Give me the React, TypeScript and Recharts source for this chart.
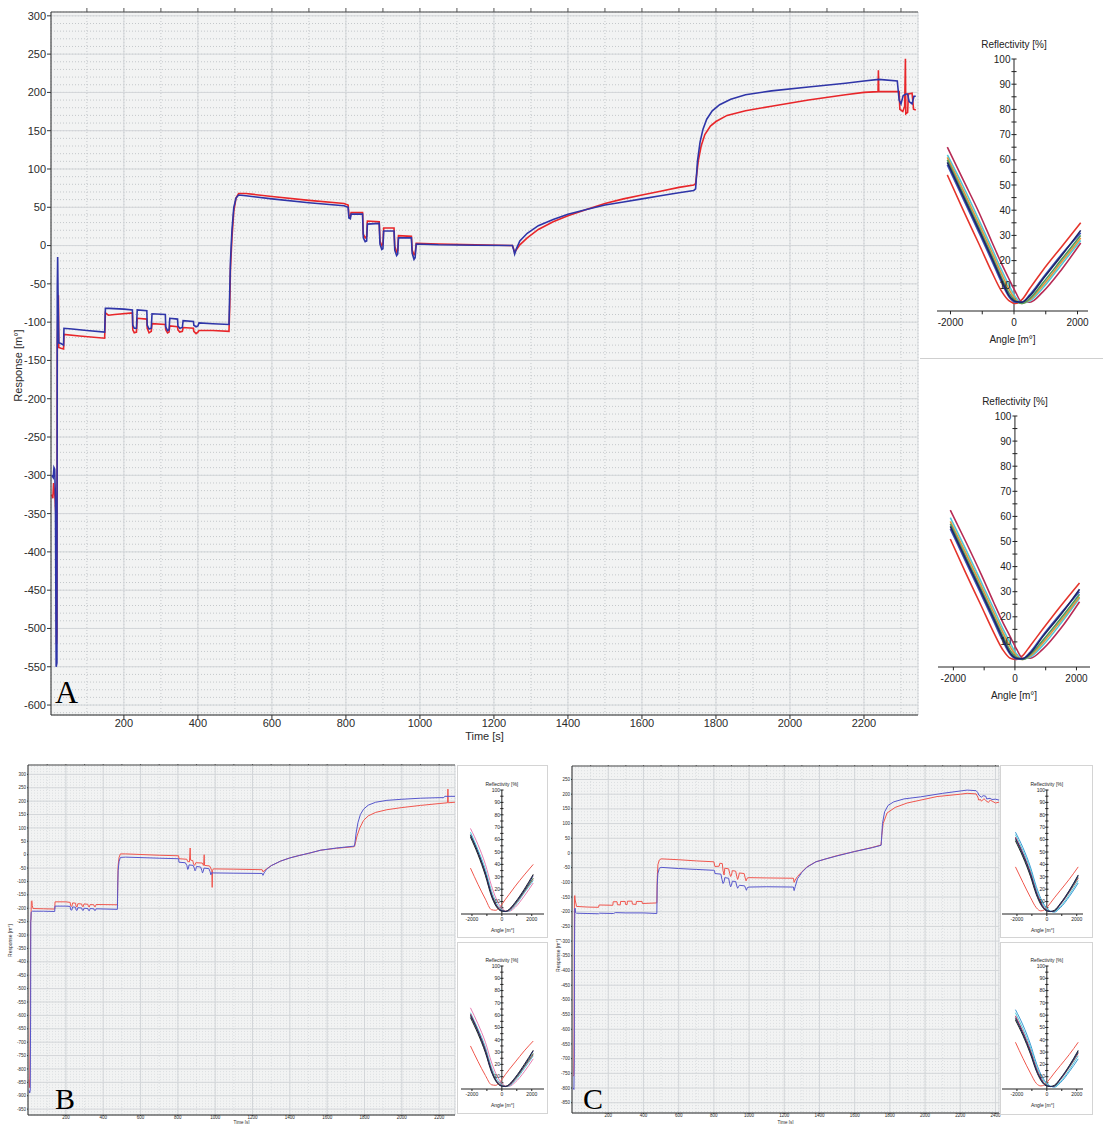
import React from 'react';
import { LineChart, Line, XAxis, YAxis, CartesianGrid, ReferenceLine, ReferenceDot } from 'recharts';

const FONT = '"Liberation Sans", Arial, sans-serif';
type Pt = [number, number];

// ---- panel A sensorgram (time [s], response [m°])
const aRed: Pt[] = [
  [5, -325], [8, -330], [10, -310], [12, -320], [14, -330], [16, -350], [18, -520], [19, -505], [20, -130], [22, -70], [23, -65],
  [24, -133], [30, -134], [37, -135], [38, -116], [80, -118], [148, -121], [150, -88], [158, -91], [175, -90], [223, -88],
  [224, -110], [228, -114], [234, -113], [236, -95], [262, -96], [263, -108], [268, -114], [274, -112], [276, -102], [312, -103],
  [313, -110], [318, -114], [322, -113], [324, -105], [345, -106], [346, -110], [351, -113], [358, -112], [360, -107], [388, -108],
  [389, -112], [395, -115], [400, -113], [403, -111], [440, -111], [484, -112], [486, -80], [488, -30], [492, 10], [497, 45],
  [503, 62], [510, 68], [530, 68], [600, 64], [700, 59], [795, 55], [800, 54], [806, 53], [808, 40], [812, 38], [814, 43],
  [845, 43], [847, 15], [852, 10], [856, 12], [858, 32], [890, 31], [892, 6], [897, 0], [900, 2], [902, 23], [930, 23],
  [932, -1], [937, -8], [940, -6], [942, 13], [977, 12], [979, -6], [984, -12], [987, -10], [990, 3], [1050, 2], [1150, 1],
  [1250, 0], [1253, -4], [1256, -9], [1260, -6], [1270, 1], [1290, 10], [1320, 21], [1360, 31], [1400, 39], [1450, 47],
  [1500, 55], [1550, 61], [1600, 66], [1650, 71], [1700, 76], [1740, 79], [1745, 81], [1752, 110], [1760, 130], [1770, 145],
  [1785, 156], [1800, 162], [1830, 170], [1880, 176], [1950, 182], [2050, 190], [2150, 197], [2200, 200], [2238, 201],
  [2239, 229], [2240, 201], [2295, 201], [2297, 178], [2305, 175], [2310, 182], [2312, 244], [2313, 172], [2318, 174],
  [2320, 198], [2330, 199], [2334, 178], [2340, 177],
];
const aBlue: Pt[] = [
  [5, -300], [9, -303], [11, -290], [13, -292], [15, -330], [17, -550], [19, -545], [20, -55], [21, -15], [22, -60], [24, -127],
  [30, -128], [37, -130], [38, -108], [60, -109], [100, -111], [148, -113], [150, -82], [160, -82], [200, -83], [223, -84],
  [224, -104], [228, -108], [234, -108], [236, -84], [262, -85], [263, -104], [268, -109], [274, -108], [276, -89], [312, -90],
  [313, -106], [318, -111], [322, -110], [324, -95], [345, -96], [346, -105], [351, -108], [358, -107], [360, -98], [388, -99],
  [389, -104], [395, -106], [400, -105], [403, -101], [440, -102], [484, -103], [486, -60], [488, -20], [492, 20], [497, 50],
  [503, 62], [510, 66], [530, 65], [600, 61], [700, 56], [795, 52], [800, 51], [806, 50], [808, 36], [812, 35], [814, 41],
  [845, 41], [847, 10], [852, 5], [856, 6], [858, 28], [890, 29], [892, 2], [897, -5], [900, -4], [902, 19], [930, 19],
  [932, -6], [937, -13], [940, -11], [942, 10], [977, 10], [979, -10], [984, -18], [987, -16], [990, 2], [1050, 1],
  [1150, 0.5], [1250, 0], [1253, -5], [1256, -11], [1260, -5], [1270, 6], [1290, 16], [1320, 26], [1360, 34], [1400, 41],
  [1450, 47], [1500, 53], [1550, 57], [1600, 61], [1650, 65], [1700, 69], [1740, 72], [1745, 74], [1750, 110], [1757, 135],
  [1765, 152], [1775, 165], [1790, 176], [1810, 184], [1840, 191], [1880, 197], [1950, 202], [2050, 207], [2150, 212],
  [2200, 215], [2240, 217], [2290, 215], [2295, 190], [2300, 185], [2306, 196], [2314, 198], [2318, 198], [2322, 188],
  [2330, 185], [2335, 195], [2340, 195],
];

// ---- panel B sensorgram
const bRed: Pt[] = [
  [3, -840], [6, -870], [9, -640], [11, -250], [13, -240], [15, -175], [18, -172], [20, -190], [24, -201], [80, -202],
  [140, -203], [142, -176], [200, -176], [223, -178], [225, -190], [232, -193], [236, -180], [252, -181], [254, -192],
  [260, -195], [264, -183], [285, -184], [287, -192], [293, -194], [297, -184], [318, -185], [320, -193], [326, -195],
  [330, -186], [350, -187], [352, -193], [358, -194], [362, -186], [476, -187], [478, -100], [480, -40], [485, -10], [492, 3],
  [520, 3], [700, -2], [804, -4], [806, -15], [848, -17], [852, -25], [862, -27], [866, 25], [868, -20], [880, -22],
  [884, -35], [890, -40], [896, -30], [930, -31], [938, -40], [941, 0], [943, -40], [970, -42], [976, -50], [982, -60],
  [984, -122], [986, -58], [990, -53], [1100, -54], [1252, -56], [1256, -64], [1262, -60], [1275, -53], [1300, -41],
  [1350, -24], [1400, -12], [1450, -3], [1500, 5], [1566, 17], [1650, 24], [1745, 30], [1748, 34], [1760, 70], [1775, 100],
  [1795, 128], [1820, 145], [1860, 158], [1920, 168], [2000, 176], [2100, 184], [2200, 191], [2245, 194], [2247, 245],
  [2249, 194], [2285, 196],
];
const bBlue: Pt[] = [
  [3, -880], [6, -890], [9, -880], [11, -600], [12, -250], [14, -215], [20, -211], [80, -211], [140, -212], [142, -192],
  [200, -192], [223, -193], [225, -205], [232, -207], [236, -195], [252, -196], [254, -206], [260, -208], [264, -198],
  [285, -199], [287, -206], [293, -208], [297, -200], [318, -201], [320, -207], [326, -209], [330, -201], [350, -202],
  [352, -207], [358, -208], [362, -202], [476, -204], [478, -120], [480, -60], [485, -25], [492, -10], [520, -9], [700, -13],
  [804, -15], [806, -28], [840, -30], [848, -40], [853, -55], [857, -50], [860, -38], [882, -40], [888, -50], [892, -60],
  [896, -55], [900, -44], [922, -46], [928, -58], [932, -68], [936, -62], [940, -50], [966, -52], [972, -62], [977, -75],
  [982, -66], [986, -68], [1100, -69], [1252, -70], [1256, -77], [1262, -68], [1275, -55], [1300, -41], [1350, -24],
  [1400, -12], [1450, -3], [1500, 5], [1566, 17], [1650, 25], [1745, 32], [1748, 40], [1755, 80], [1765, 120], [1778, 150],
  [1795, 170], [1820, 185], [1860, 196], [1920, 203], [2000, 207], [2100, 211], [2200, 213], [2225, 213], [2230, 218],
  [2285, 218],
];

// ---- panel C sensorgram
const cRed: Pt[] = [
  [1, -760], [4, -755], [6, -600], [8, -150], [10, -145], [12, -160], [20, -182], [80, -184], [145, -185], [148, -177],
  [226, -178], [228, -166], [250, -166], [252, -176], [268, -177], [270, -165], [296, -165], [298, -175], [307, -176],
  [309, -164], [335, -164], [337, -174], [358, -175], [360, -165], [392, -165], [394, -172], [476, -170], [478, -90],
  [482, -40], [490, -24], [500, -20], [600, -23], [700, -27], [800, -30], [806, -46], [830, -45], [834, -35], [848, -36],
  [852, -60], [858, -75], [862, -52], [884, -54], [890, -70], [895, -80], [900, -76], [905, -60], [924, -62], [930, -80],
  [935, -90], [940, -82], [945, -68], [972, -70], [978, -85], [983, -95], [990, -85], [1000, -84], [1100, -85], [1252, -86],
  [1256, -100], [1262, -92], [1275, -80], [1300, -64], [1330, -47], [1380, -30], [1443, -19], [1500, -9], [1600, 5],
  [1700, 19], [1750, 27], [1754, 60], [1762, 100], [1784, 136], [1830, 155], [1898, 170], [2068, 192], [2200, 200],
  [2239, 203], [2290, 201], [2300, 190], [2305, 180], [2315, 182], [2320, 176], [2335, 185], [2345, 178], [2360, 172],
  [2370, 180], [2385, 175], [2400, 170], [2420, 173],
];
const cBlue: Pt[] = [
  [2, -800], [5, -805], [7, -700], [8, -350], [10, -190], [12, -188], [14, -203], [20, -205], [80, -206], [145, -207],
  [150, -205], [230, -206], [240, -203], [300, -204], [400, -204], [476, -206], [478, -110], [482, -70], [490, -52],
  [500, -49], [600, -53], [700, -56], [800, -59], [804, -60], [806, -70], [840, -72], [846, -90], [852, -104], [858, -98],
  [862, -84], [884, -86], [890, -105], [895, -115], [900, -110], [905, -96], [924, -97], [930, -112], [935, -120],
  [940, -115], [945, -110], [975, -112], [980, -120], [985, -127], [990, -118], [1000, -116], [1100, -115], [1252, -116],
  [1256, -128], [1262, -115], [1275, -88], [1300, -66], [1330, -48], [1380, -30], [1443, -19], [1500, -10], [1600, 5],
  [1700, 18], [1750, 26], [1752, 40], [1758, 100], [1770, 140], [1790, 162], [1822, 174], [1880, 184], [1974, 191],
  [2100, 203], [2239, 214], [2290, 212], [2300, 205], [2305, 197], [2320, 190], [2330, 195], [2345, 193], [2350, 184],
  [2370, 186], [2380, 182], [2400, 183], [2420, 180],
];

// ---- tick labels
const aTimeTicks = [200, 400, 600, 800, 1000, 1200, 1400, 1600, 1800, 2000, 2200];
const aRespTicks = [-600, -550, -500, -450, -400, -350, -300, -250, -200, -150, -100, -50, 0, 50, 100, 150, 200, 250, 300];
const bTimeTicks = [200, 400, 600, 800, 1000, 1200, 1400, 1600, 1800, 2000, 2200];
const bRespTicks = [-950, -900, -850, -800, -750, -700, -650, -600, -550, -500, -450, -400, -350, -300, -250, -200, -150,
  -100, -50, 0, 50, 100, 150, 200, 250, 300];
const cTimeTicks = [200, 400, 600, 800, 1000, 1200, 1400, 1600, 1800, 2000, 2200, 2400];
const cRespTicks = [-850, -800, -750, -700, -650, -600, -550, -500, -450, -400, -350, -300, -250, -200, -150, -100, -50,
  0, 50, 100, 150, 200, 250];
const angleTicks = [-2000, -1000, 0, 1000, 2000];
const reflLabels = [10, 20, 30, 40, 50, 60, 70, 80, 90, 100];

// ---- reflectivity curves (angle [m°] -> reflectivity [%])
const reflAngles = [-2100, -1600, -1100, -700, -400, -150, 50, 250, 500, 900, 1500, 2100];

const a1Red = [54, 40, 26.5, 15.5, 8, 4, 3, 4.5, 9, 16, 25.5, 35];
const a1Blue = [58, 44.5, 31, 20, 11.5, 5.5, 3.5, 3.5, 6.5, 13, 22.5, 31];
const a1Navy = [59, 45.5, 32, 21, 12.5, 6, 3.8, 3.5, 6, 12.5, 22, 32];
const a1Green = [60, 46.5, 33, 22, 13.5, 7, 4, 3, 5, 11, 20.5, 30];
const a1Orange = [61, 48, 34.5, 23.5, 15, 8.5, 4.5, 3, 4.5, 10, 19.5, 29];
const a1Cyan = [62, 49.5, 36, 25, 16.5, 10, 5.5, 3.2, 4, 9, 18.5, 28];
const a1Crimson = [65, 52, 39, 27.5, 19, 12.5, 7.5, 3.5, 3.5, 7.5, 16.5, 27];

const a2Red = [51, 37.5, 24.5, 14, 7, 3.5, 3, 4.5, 8.5, 15, 24.5, 33.5];
const a2Blue = [55, 42, 29, 18.5, 10.5, 5, 3.2, 3.3, 6, 12.5, 21.5, 30];
const a2Navy = [56, 43, 30, 19.5, 11.5, 5.5, 3.5, 3.3, 5.5, 12, 21, 31];
const a2Green = [57, 44, 31, 20.5, 12.5, 6.5, 3.8, 3, 5, 10.5, 19.5, 29];
const a2Orange = [58, 45.5, 32.5, 22, 14, 8, 4.3, 3, 4.5, 9.5, 18.5, 28];
const a2Cyan = [59.5, 47, 34, 23.5, 15.5, 9.5, 5.2, 3.2, 4, 8.5, 17.5, 27.5];
const a2Crimson = [62.5, 50, 37, 26, 18, 12, 7.2, 3.5, 3.5, 7, 15.5, 26];

const b1Out = [37, 24, 12, 3.5, 3, 5.5, 8.5, 12, 16, 22.5, 31.5, 40];
const b1Navy = [64, 50, 33, 16, 7.5, 3.5, 2.5, 2, 3.5, 9, 19, 31];
const b1Black = [62, 48, 31, 14.5, 6.5, 3, 2.2, 2.2, 4, 9.5, 20, 32];
const b1Green = [63, 49, 32, 15.5, 7, 3.3, 2.3, 2, 3.5, 8.5, 18.5, 29];
const b1Red = [63.5, 49.5, 33, 16.5, 8, 4, 2.5, 2, 3, 8, 18, 28.5];
const b1Cyan = [66, 52, 36, 19, 10, 5, 3, 2, 2.5, 7, 17, 27];
const b1Pink = [69, 56, 40, 23, 13, 7, 4, 2.5, 2.3, 5.5, 14.5, 25];

const b2Out = [35, 22.5, 11, 3.5, 3, 5.5, 8.5, 12, 16, 22, 31, 39];
const b2Navy = [60, 47, 31, 15, 7, 3.3, 2.3, 2, 3.5, 9, 19, 31];
const b2Black = [58, 45, 29.5, 14, 6.3, 3, 2.2, 2.2, 4, 9.5, 20, 31.5];
const b2Green = [59, 46, 30.5, 15, 7, 3.3, 2.3, 2, 3.5, 8.5, 18.5, 29];
const b2Red = [61, 47.5, 32, 16, 7.5, 4, 2.5, 2, 3, 8, 18, 28];
const b2Cyan = [62, 49, 34, 18, 9.5, 5, 3, 2, 2.5, 7, 16.5, 27];
const b2Pink = [66, 53, 38, 22, 12.5, 7, 4, 2.5, 2.3, 5.5, 14, 24.5];

const c1Out = [38, 25.5, 13.5, 5, 2.5, 3.5, 6, 9, 13, 19, 28, 38];
const c1Navy = [61, 48, 32.5, 17, 8.5, 4, 2.5, 2, 2.5, 8, 18.5, 31];
const c1Black = [59, 46, 30.5, 15.5, 7.5, 3.5, 2.3, 2, 3, 8.5, 19, 31.5];
const c1Green = [60, 47, 31.5, 16.5, 8, 4, 2.5, 2, 2.5, 8, 18, 30];
const c1Red = [62, 49, 33.5, 18, 9.5, 4.5, 2.7, 2, 2.3, 7.5, 17.5, 29];
const c1Cyan = [64, 51, 36, 20, 11, 6, 3.5, 2.2, 2, 6, 15.5, 27];
const c1Steel = [66, 53.5, 38, 22, 12.5, 7, 4, 2.3, 1.5, 5, 14, 25];

const c2Out = [38, 25, 13, 4.5, 2.5, 3.5, 6, 9, 13, 19, 28, 38];
const c2Navy = [58, 45, 30, 15.5, 8, 3.8, 2.5, 2, 2.5, 8, 18.5, 30.5];
const c2Black = [56, 43.5, 28.5, 14.5, 7, 3.3, 2.3, 2, 3, 8.5, 19, 31.5];
const c2Green = [57, 44.5, 29.5, 15.5, 7.5, 3.8, 2.5, 2, 2.5, 8, 18, 30];
const c2Red = [59.5, 46.5, 31.5, 17, 9, 4.3, 2.7, 2, 2.3, 7.5, 17.5, 29];
const c2Cyan = [62, 49, 34, 19, 10.5, 5.8, 3.5, 2.2, 2, 6, 15.5, 27];
const c2Steel = [64.5, 52, 36.5, 21, 12, 6.8, 4, 2.3, 1.5, 5, 14, 24.5];

const C_RED = '#e5352c';
const C_NAVY = '#1f2466';
const C_BLUE = '#3b55b8';
const C_BLACK = '#2a2a2a';
const C_GREEN = '#4d9a5f';
const C_ORANGE = '#e3953a';
const C_CYAN = '#4fc9d9';
const C_CRIMSON = '#b72b54';
const C_PINK = '#e77fb4';
const C_STEEL = '#3d9ad6';
const C_OUT = '#f0584e';

// grid helper for minor lines
const steps = (from: number, to: number, step: number) => {
  const out: number[] = [];
  for (let v = from; v <= to; v += step) out.push(v);
  return out;
};

interface Series { values: number[]; color: string }

function MainChart(p: {
  left: number; top: number; width: number; height: number;
  margin: { top: number; right: number; left: number; bottom: number };
  yW: number; xH: number; xDomain: [number, number]; yDomain: [number, number];
  xTicks: number[]; yTicks: number[]; xMinor: number[]; yMinor: number[];
  red: Pt[]; blue: Pt[]; font: number; sw: number; redC: string; blueC: string; tick: number; labelOff: number;
  minorC: string;
}) {
  const redData = p.red.map(([t, v]) => ({ t, v }));
  const blueData = p.blue.map(([t, v]) => ({ t, v }));
  const tickStyle = { fontSize: p.font, fill: '#2b2b2b', fontFamily: FONT };
  return (
    <div style={{ position: 'absolute', left: p.left, top: p.top }}>
      <LineChart width={p.width} height={p.height} margin={p.margin}>
        <CartesianGrid xAxisId="minor" yAxisId="minor" fill="#f2f3f3" stroke={p.minorC} strokeDasharray="1 2" />
        <CartesianGrid stroke="#d3d6d9" />
        <XAxis xAxisId="minor" type="number" dataKey="t" domain={p.xDomain} ticks={p.xMinor} interval={0} allowDataOverflow hide />
        <YAxis yAxisId="minor" type="number" domain={p.yDomain} ticks={p.yMinor} interval={0} allowDataOverflow hide />
        <XAxis
          xAxisId="top" orientation="top" type="number" dataKey="t" domain={p.xDomain} ticks={p.xMinor} interval={0}
          allowDataOverflow height={1} tickFormatter={() => ''} tickSize={p.tick}
          axisLine={{ stroke: '#555' }} tickLine={{ stroke: '#555' }}
        />
        <XAxis
          type="number" dataKey="t" domain={p.xDomain} ticks={p.xTicks} interval={0} allowDataOverflow height={p.xH}
          tickSize={p.tick} tickMargin={0} tick={tickStyle}
          axisLine={{ stroke: '#333' }} tickLine={{ stroke: '#333' }}
          label={{ value: 'Time [s]', position: 'insideBottom', offset: p.labelOff, fontSize: p.font, fill: '#2b2b2b', fontFamily: FONT }}
        />
        <YAxis
          type="number" domain={p.yDomain} ticks={p.yTicks} interval={0} allowDataOverflow width={p.yW}
          tickSize={p.tick} tickMargin={1} tick={tickStyle}
          axisLine={{ stroke: '#333' }} tickLine={{ stroke: '#333' }}
        />
        <Line data={redData} dataKey="v" type="linear" stroke={p.redC} strokeWidth={p.sw} dot={false} isAnimationActive={false} />
        <Line data={blueData} dataKey="v" type="linear" stroke={p.blueC} strokeWidth={p.sw} dot={false} isAnimationActive={false} />
      </LineChart>
    </div>
  );
}

function ReflChart(p: {
  left: number; top: number; width: number; height: number;
  margin: { top: number; right: number; left: number; bottom: number };
  xDomain: [number, number]; series: Series[]; font: number; tl: number; sw: number; xH: number; titleOff: number;
  tickGap: number; labelOff: number;
}) {
  const rows = reflAngles.map((a, i) => {
    const r: Record<string, number> = { angle: a };
    p.series.forEach((s, k) => { r['s' + k] = s.values[i]; });
    return r;
  });
  const txt = { fontSize: p.font, fill: '#222', fontFamily: FONT };
  return (
    <div style={{ position: 'absolute', left: p.left, top: p.top }}>
      <LineChart width={p.width} height={p.height} data={rows} margin={p.margin}>
        <XAxis
          type="number" dataKey="angle" domain={p.xDomain} ticks={angleTicks} interval={0} allowDataOverflow height={p.xH}
          tickFormatter={(v: number) => (v % 2000 === 0 ? String(v) : '')}
          tickSize={Math.max(2, p.font / 3)} tickMargin={p.tickGap} tick={txt}
          axisLine={{ stroke: '#222' }} tickLine={{ stroke: '#222' }}
          label={{ value: 'Angle [m°]', position: 'insideBottom', offset: p.labelOff, ...txt }}
        />
        <YAxis type="number" domain={[0, 100]} allowDataOverflow hide />
        <ReferenceLine x={0} stroke="#222" />
        {steps(5, 100, 5).map((t) => (
          <ReferenceLine key={'t' + t} segment={[{ x: -p.tl, y: t }, { x: p.tl, y: t }]} stroke="#222" />
        ))}
        {reflLabels.map((t) => (
          <ReferenceDot key={'l' + t} x={0} y={t} r={0} fill="none" stroke="none"
            label={{ value: String(t), position: 'left', offset: p.font * 0.35, ...txt }} />
        ))}
        <ReferenceDot x={0} y={100} r={0} fill="none" stroke="none"
          label={{ value: 'Reflectivity [%]', position: 'top', offset: p.titleOff, ...txt }} />
        {p.series.map((s, k) => (
          <Line key={k} dataKey={'s' + k} type="monotone" stroke={s.color} strokeWidth={p.sw} dot={false} isAnimationActive={false} />
        ))}
      </LineChart>
    </div>
  );
}

const a1Series: Series[] = [
  { values: a1Red, color: C_RED }, { values: a1Crimson, color: C_CRIMSON }, { values: a1Cyan, color: C_CYAN },
  { values: a1Orange, color: C_ORANGE }, { values: a1Green, color: C_GREEN }, { values: a1Blue, color: C_BLUE },
  { values: a1Navy, color: C_NAVY },
];
const a2Series: Series[] = [
  { values: a2Red, color: C_RED }, { values: a2Crimson, color: C_CRIMSON }, { values: a2Cyan, color: C_CYAN },
  { values: a2Orange, color: C_ORANGE }, { values: a2Green, color: C_GREEN }, { values: a2Blue, color: C_BLUE },
  { values: a2Navy, color: C_NAVY },
];
const b1Series: Series[] = [
  { values: b1Out, color: C_OUT }, { values: b1Pink, color: C_PINK }, { values: b1Cyan, color: C_CYAN },
  { values: b1Red, color: C_CRIMSON }, { values: b1Green, color: C_GREEN }, { values: b1Black, color: C_BLACK },
  { values: b1Navy, color: C_NAVY },
];
const b2Series: Series[] = [
  { values: b2Out, color: C_OUT }, { values: b2Pink, color: C_PINK }, { values: b2Cyan, color: C_CYAN },
  { values: b2Red, color: C_CRIMSON }, { values: b2Green, color: C_GREEN }, { values: b2Black, color: C_BLACK },
  { values: b2Navy, color: C_NAVY },
];
const c1Series: Series[] = [
  { values: c1Out, color: C_OUT }, { values: c1Steel, color: C_STEEL }, { values: c1Cyan, color: C_CYAN },
  { values: c1Red, color: C_CRIMSON }, { values: c1Green, color: C_GREEN }, { values: c1Black, color: C_BLACK },
  { values: c1Navy, color: C_NAVY },
];
const c2Series: Series[] = [
  { values: c2Out, color: C_OUT }, { values: c2Steel, color: C_STEEL }, { values: c2Cyan, color: C_CYAN },
  { values: c2Red, color: C_CRIMSON }, { values: c2Green, color: C_GREEN }, { values: c2Black, color: C_BLACK },
  { values: c2Navy, color: C_NAVY },
];

function VTitle({ cx, cy, size, text }: { cx: number; cy: number; size: number; text: string }) {
  const w = 200;
  return (
    <div style={{
      position: 'absolute', left: cx - w / 2, top: cy - size / 2, width: w, height: size, lineHeight: `${size}px`,
      textAlign: 'center', fontSize: size, fontFamily: FONT, color: '#2b2b2b', transform: 'rotate(-90deg)',
    }}>{text}</div>
  );
}

function Letter({ x, y, size, text }: { x: number; y: number; size: number; text: string }) {
  return (
    <div style={{
      position: 'absolute', left: x, top: y, fontSize: size, lineHeight: 1,
      fontFamily: '"Liberation Serif", "Times New Roman", serif', color: '#000',
    }}>{text}</div>
  );
}

const box = (left: number, top: number, width: number, height: number): React.CSSProperties => ({
  position: 'absolute', left, top, width, height, border: '1px solid #d4d4d4', background: '#fff', boxSizing: 'border-box',
});

export default function App() {
  return (
    <div style={{ position: 'absolute', left: 0, top: 0, width: 1103, height: 1124, background: '#fff', overflow: 'hidden' }}>
      {/* panel A */}
      <MainChart
        left={0} top={0} width={920} height={745} margin={{ top: 11, right: 2, left: 0, bottom: 0 }}
        yW={51} xH={30} xDomain={[3, 2346]} yDomain={[-613, 305]}
        xTicks={aTimeTicks} yTicks={aRespTicks} xMinor={steps(100, 2300, 100)} yMinor={steps(-610, 300, 10)}
        red={aRed} blue={aBlue} font={11} sw={1.6} redC="#e8262a" blueC="#2f35a8" tick={4} labelOff={5} minorC="#c4c8cb"
      />
      <VTitle cx={18} cy={365} size={11} text="Response [m°]" />
      <div style={{ position: 'absolute', left: 920, top: 358, width: 183, height: 0, borderTop: '1px solid #cfcfcf' }} />
      <ReflChart left={920} top={20} width={183} height={326} margin={{ top: 39, right: 15, left: 17, bottom: 0 }}
        xDomain={[-2425, 2330]} series={a1Series} font={10} tl={80} sw={1.6} xH={35} titleOff={11} tickGap={5} labelOff={3} />
      <ReflChart left={920} top={377} width={183} height={325} margin={{ top: 39, right: 13, left: 18, bottom: 0 }}
        xDomain={[-2500, 2440]} series={a2Series} font={10} tl={80} sw={1.6} xH={35} titleOff={11} tickGap={5} labelOff={3} />
      <Letter x={55} y={676} size={32} text="A" />

      {/* panel B */}
      <MainChart
        left={0} top={755} width={460} height={369} margin={{ top: 9, right: 5, left: 0, bottom: 0 }}
        yW={28} xH={9} xDomain={[-3, 2285]} yDomain={[-972, 335]}
        xTicks={bTimeTicks} yTicks={bRespTicks} xMinor={steps(100, 2200, 100)} yMinor={steps(-970, 330, 10)}
        red={bRed} blue={bBlue} font={4.5} sw={1} redC="#f0564e" blueC="#5656cc" tick={1} labelOff={0} minorC="#dcdfe1"
      />
      <VTitle cx={10} cy={940} size={5} text="Response [m°]" />
      <div style={box(457, 765, 91, 173)} />
      <div style={box(457, 942, 91, 172)} />
      <ReflChart left={457} top={765} width={91} height={169} margin={{ top: 25, right: 4, left: 4, bottom: 0 }}
        xDomain={[-2733, 2820]} series={b1Series} font={5} tl={110} sw={1} xH={20} titleOff={4} tickGap={1} labelOff={2} />
      <ReflChart left={457} top={942} width={91} height={167} margin={{ top: 24, right: 4, left: 4, bottom: 0 }}
        xDomain={[-2733, 2820]} series={b2Series} font={5} tl={110} sw={1} xH={20} titleOff={4} tickGap={1} labelOff={2} />
      <Letter x={55} y={1084} size={30} text="B" />

      {/* panel C */}
      <MainChart
        left={552} top={755} width={450} height={369} margin={{ top: 10, right: 3, left: 0, bottom: 0 }}
        yW={20} xH={11} xDomain={[-6, 2420]} yDomain={[-885, 296]}
        xTicks={cTimeTicks} yTicks={cRespTicks} xMinor={steps(100, 2400, 100)} yMinor={steps(-880, 290, 10)}
        red={cRed} blue={cBlue} font={4.5} sw={1} redC="#f0564e" blueC="#5656cc" tick={1} labelOff={0} minorC="#dcdfe1"
      />
      <VTitle cx={558} cy={955} size={5} text="Response [m°]" />
      <div style={box(1000, 765, 93, 173)} />
      <div style={box(1000, 942, 93, 173)} />
      <ReflChart left={1000} top={765} width={93} height={169} margin={{ top: 25, right: 10, left: 2, bottom: 0 }}
        xDomain={[-3000, 2420]} series={c1Series} font={5} tl={110} sw={1} xH={20} titleOff={4} tickGap={1} labelOff={2} />
      <ReflChart left={1000} top={942} width={93} height={167} margin={{ top: 24, right: 10, left: 2, bottom: 0 }}
        xDomain={[-3000, 2420]} series={c2Series} font={5} tl={110} sw={1} xH={20} titleOff={4} tickGap={1} labelOff={2} />
      <Letter x={583} y={1084} size={30} text="C" />
    </div>
  );
}
